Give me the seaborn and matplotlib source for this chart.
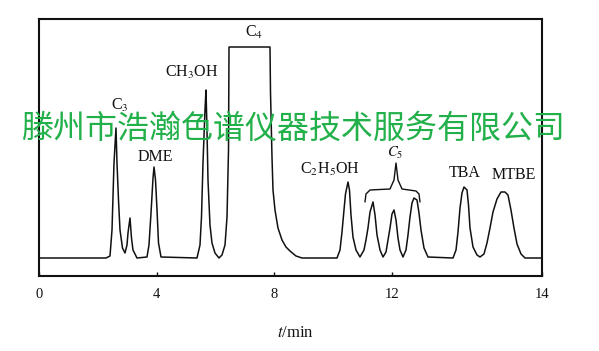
import numpy as np
import pandas as pd
import matplotlib
matplotlib.use("Agg")
import matplotlib.pyplot as plt
import seaborn as sns

# ---- data (time in min, detector signal in arbitrary units) ----
time_min = [0.000, 2.279, 2.415, 2.483, 2.551, 2.619, 2.653, 2.704, 2.755, 2.840,
            2.925, 2.993, 3.027, 3.095, 3.146, 3.197, 3.333, 3.673, 3.741, 3.810,
            3.878, 3.912, 3.963, 4.014, 4.065, 4.150, 5.374, 5.476, 5.527, 5.578,
            5.646, 5.680, 5.714, 5.748, 5.816, 5.884, 5.986, 6.122, 6.224, 6.327,
            6.395, 6.446, 6.463, 7.857, 7.874, 7.925, 7.959, 8.027, 8.129, 8.265,
            8.401, 8.537, 8.741, 8.946, 10.136, 10.238, 10.306, 10.374, 10.425, 10.510,
            10.561, 10.612, 10.680, 10.782, 10.918, 11.054, 11.122, 11.190, 11.259, 11.361,
            11.429, 11.497, 11.599, 11.701, 11.803, 11.871, 11.939, 12.007, 12.075, 12.143,
            12.211, 12.279, 12.381, 12.483, 12.551, 12.619, 12.687, 12.755, 12.857, 12.925,
            12.993, 13.095, 13.231, 14.082, 14.184, 14.252, 14.320, 14.388, 14.456, 14.558,
            14.609, 14.660, 14.762, 14.898, 15.000, 15.136, 15.238, 15.340, 15.442, 15.578,
            15.714, 15.850, 15.952, 16.054, 16.156, 16.259, 16.395, 16.531, 17.109]
signal = [0, 0, 2, 28, 95, 130, 95, 58, 28, 10,
          5, 13, 25, 40, 20, 8, 0, 1, 13, 45,
          80, 91, 78, 48, 15, 1, 0, 13, 41, 95,
          148, 168, 128, 78, 33, 15, 5, 0, 3, 13,
          41, 108, 211, 211, 166, 101, 68, 48, 30, 18,
          11, 7, 2, 0, 0, 8, 26, 48, 64, 76,
          68, 43, 21, 8, 1, 8, 18, 30, 46, 56,
          43, 23, 8, 1, 6, 18, 30, 44, 48, 38,
          20, 8, 1, 8, 23, 41, 55, 60, 58, 45,
          28, 10, 1, 0, 8, 26, 50, 65, 71, 68,
          53, 30, 11, 3, 1, 4, 15, 30, 46, 59,
          66, 66, 63, 48, 30, 14, 4, 0, 0]

peak_labels = ["C$_3$", "DME", "CH$_3$OH", "C$_4$", "C$_2$H$_5$OH", "$C_5$", "TBA", "MTBE"]
label_time = [2.755, 3.946, 5.204, 7.313, 9.898, 12.12, 14.49, 16.16]
label_signal = [153, 101, 186, 226, 89, 105, 85, 83]
label_size = [11.5, 11.5, 11.5, 11.5, 11.5, 10.5, 11.5, 11.5]

brace_time = [11.088, 11.122, 11.259, 11.939, 12.075, 12.143, 12.211, 12.347, 12.823, 12.925, 12.959]
brace_signal = [56, 64, 68, 69, 78, 95, 78, 69, 67, 64, 56]

tick_pos = [0, 4, 8, 12, 17.109]
tick_labels = ["0", "4", "8", "12", "14"]

watermark = "滕州市浩瀚色谱仪器技术服务有限公司"

# ---- style ----
sns.set_style("white")
plt.rcParams["font.family"] = ["Liberation Serif", "DejaVu Serif"]
plt.rcParams["mathtext.fontset"] = "stix"

df = pd.DataFrame({"time": time_min, "signal": signal})

fig = plt.figure(figsize=(5.99, 3.51), dpi=100)
ax = fig.add_axes([39/599, 1-276/351, (542-39)/599, (276-19)/351])

sns.lineplot(data=df, x="time", y="signal", ax=ax, sort=False, estimator=None,
             color="#111111", linewidth=1.1)
ax.plot(brace_time, brace_signal, color="#111111", linewidth=1.0)

for lab, tx, sy, fs in zip(peak_labels, label_time, label_signal, label_size):
    ax.text(tx, sy, lab, ha="center", va="center", fontsize=fs, color="#111111")

ax.set_xlim(0, 17.109)
ax.set_ylim(-18, 239)
ax.set_xticks(tick_pos)
ax.set_xticklabels(tick_labels)
ax.set_yticks([])
ax.tick_params(axis="x", direction="in", length=3, width=1, pad=9,
               labelsize=10.5, colors="#111111", bottom=True)
ax.set_xlabel("")
ax.set_ylabel("")
for s in ax.spines.values():
    s.set_visible(True)
    s.set_color("#111111")
    s.set_linewidth(1.5)

fig.text(295/599, 1-333/351, "$t$/min", ha="center", va="center", fontsize=12, color="#111111")

fig.text(293/599, 1-129/351, watermark, ha="center", va="center", fontsize=23,
         color="#22B04A", family=["Noto Sans CJK SC", "DejaVu Sans"])

fig.savefig("out.png", dpi=100)
